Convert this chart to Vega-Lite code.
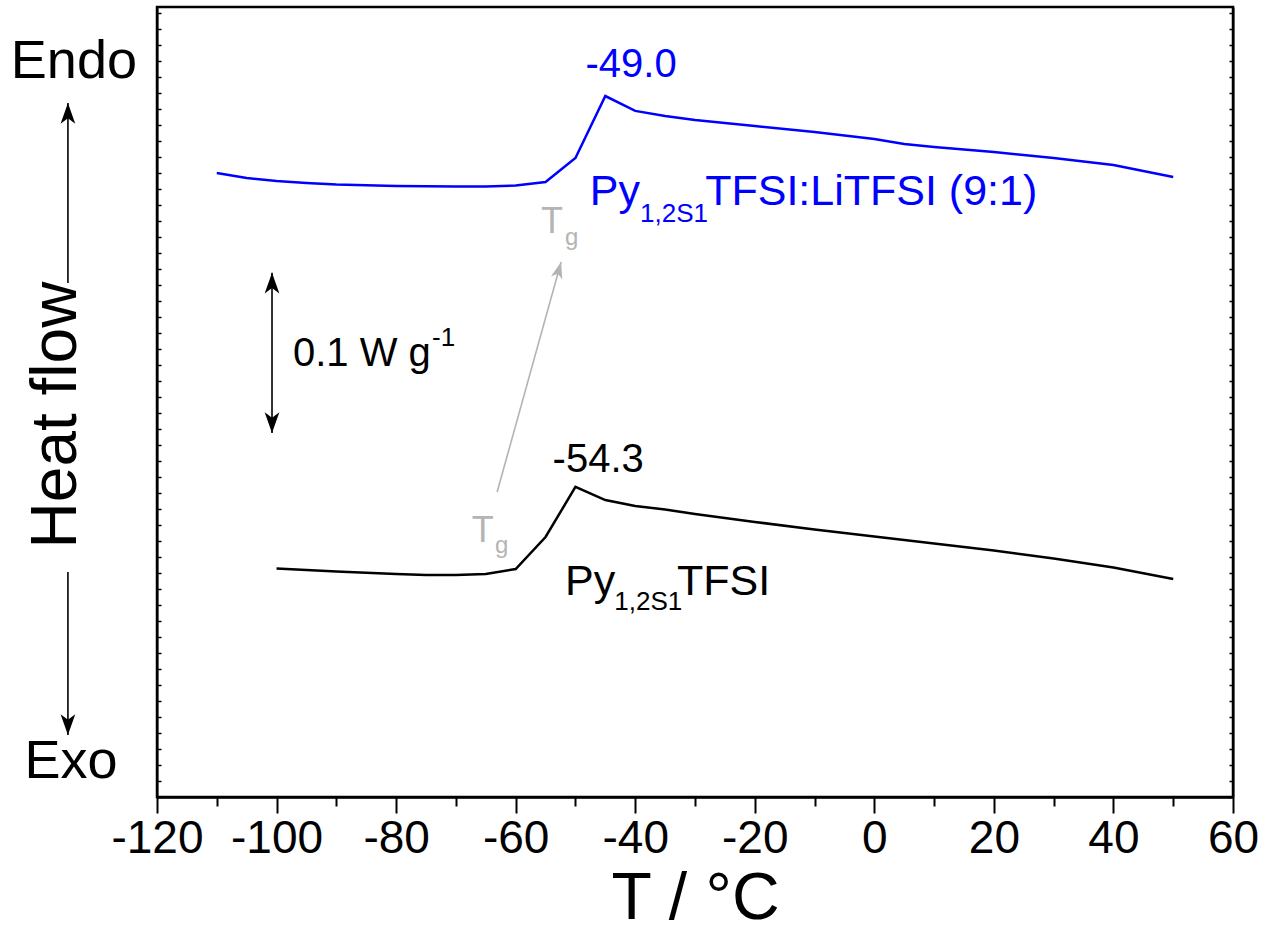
{
  "$schema": "https://vega.github.io/schema/vega-lite/v6.json",
  "width": 1076,
  "height": 790,
  "autosize": "none",
  "padding": {"left": 157, "top": 7, "right": 33, "bottom": 143},
  "background": "white",
  "config": {"view": {"stroke": "black", "strokeWidth": 2.5}, "font": "Liberation Sans"},
  "datasets": {
    "curves": [
      {"T": -110, "hf": 390.0, "sample": "Py1,2S1TFSI:LiTFSI (9:1)"},
      {"T": -105, "hf": 386.9, "sample": "Py1,2S1TFSI:LiTFSI (9:1)"},
      {"T": -100, "hf": 385.0, "sample": "Py1,2S1TFSI:LiTFSI (9:1)"},
      {"T": -95, "hf": 383.8, "sample": "Py1,2S1TFSI:LiTFSI (9:1)"},
      {"T": -90, "hf": 382.8, "sample": "Py1,2S1TFSI:LiTFSI (9:1)"},
      {"T": -80, "hf": 381.9, "sample": "Py1,2S1TFSI:LiTFSI (9:1)"},
      {"T": -70, "hf": 381.6, "sample": "Py1,2S1TFSI:LiTFSI (9:1)"},
      {"T": -65, "hf": 381.6, "sample": "Py1,2S1TFSI:LiTFSI (9:1)"},
      {"T": -60, "hf": 382.2, "sample": "Py1,2S1TFSI:LiTFSI (9:1)"},
      {"T": -55, "hf": 384.4, "sample": "Py1,2S1TFSI:LiTFSI (9:1)"},
      {"T": -50, "hf": 399.4, "sample": "Py1,2S1TFSI:LiTFSI (9:1)"},
      {"T": -45, "hf": 438.1, "sample": "Py1,2S1TFSI:LiTFSI (9:1)"},
      {"T": -40, "hf": 428.8, "sample": "Py1,2S1TFSI:LiTFSI (9:1)"},
      {"T": -35, "hf": 425.6, "sample": "Py1,2S1TFSI:LiTFSI (9:1)"},
      {"T": -30, "hf": 423.1, "sample": "Py1,2S1TFSI:LiTFSI (9:1)"},
      {"T": -20, "hf": 419.4, "sample": "Py1,2S1TFSI:LiTFSI (9:1)"},
      {"T": -10, "hf": 415.6, "sample": "Py1,2S1TFSI:LiTFSI (9:1)"},
      {"T": 0, "hf": 411.3, "sample": "Py1,2S1TFSI:LiTFSI (9:1)"},
      {"T": 5, "hf": 408.1, "sample": "Py1,2S1TFSI:LiTFSI (9:1)"},
      {"T": 10, "hf": 406.3, "sample": "Py1,2S1TFSI:LiTFSI (9:1)"},
      {"T": 20, "hf": 403.1, "sample": "Py1,2S1TFSI:LiTFSI (9:1)"},
      {"T": 30, "hf": 399.4, "sample": "Py1,2S1TFSI:LiTFSI (9:1)"},
      {"T": 40, "hf": 395.0, "sample": "Py1,2S1TFSI:LiTFSI (9:1)"},
      {"T": 50, "hf": 387.5, "sample": "Py1,2S1TFSI:LiTFSI (9:1)"},
      {"T": -100, "hf": 142.8, "sample": "Py1,2S1TFSI"},
      {"T": -90, "hf": 140.9, "sample": "Py1,2S1TFSI"},
      {"T": -80, "hf": 139.4, "sample": "Py1,2S1TFSI"},
      {"T": -75, "hf": 138.8, "sample": "Py1,2S1TFSI"},
      {"T": -70, "hf": 138.8, "sample": "Py1,2S1TFSI"},
      {"T": -65, "hf": 139.4, "sample": "Py1,2S1TFSI"},
      {"T": -60, "hf": 142.5, "sample": "Py1,2S1TFSI"},
      {"T": -55, "hf": 162.5, "sample": "Py1,2S1TFSI"},
      {"T": -50, "hf": 193.8, "sample": "Py1,2S1TFSI"},
      {"T": -45, "hf": 185.6, "sample": "Py1,2S1TFSI"},
      {"T": -40, "hf": 181.9, "sample": "Py1,2S1TFSI"},
      {"T": -35, "hf": 179.7, "sample": "Py1,2S1TFSI"},
      {"T": -30, "hf": 176.9, "sample": "Py1,2S1TFSI"},
      {"T": -20, "hf": 171.9, "sample": "Py1,2S1TFSI"},
      {"T": -10, "hf": 167.2, "sample": "Py1,2S1TFSI"},
      {"T": 0, "hf": 162.8, "sample": "Py1,2S1TFSI"},
      {"T": 10, "hf": 158.4, "sample": "Py1,2S1TFSI"},
      {"T": 20, "hf": 154.1, "sample": "Py1,2S1TFSI"},
      {"T": 30, "hf": 149.1, "sample": "Py1,2S1TFSI"},
      {"T": 40, "hf": 143.4, "sample": "Py1,2S1TFSI"},
      {"T": 50, "hf": 136.3, "sample": "Py1,2S1TFSI"}
    ],
    "rules": [
      {"T": -134.9, "T2": -134.9, "v": 321.25, "v2": 433.75, "sample": "note"},
      {"T": -134.9, "T2": -134.9, "v": 140.6, "v2": 38.75, "sample": "note"},
      {"T": -100.76, "T2": -100.76, "v": 227.5, "v2": 327.7, "sample": "note"},
      {"T": -63.1, "T2": -52.4, "v": 190.6, "v2": 334.4, "sample": "Tg"}
    ],
    "heads": [
      {"T": -134.9, "v": 433.75, "dir": "up", "sample": "note"},
      {"T": -134.9, "v": 38.75, "dir": "down", "sample": "note"},
      {"T": -100.76, "v": 327.7, "dir": "up", "sample": "note"},
      {"T": -100.76, "v": 227.5, "dir": "down", "sample": "note"},
      {"T": -52.4, "v": 334.4, "dir": "tilt", "sample": "Tg"}
    ],
    "labels": [
      {"T": -133.9, "v": 449.4, "text": "Endo", "role": "big", "sample": "note"},
      {"T": -134.4, "v": 11.9, "text": "Exo", "role": "big", "sample": "note"},
      {"T": -136.7, "v": 238.75, "text": "Heat flow", "role": "axis", "sample": "note"},
      {"T": -46.2, "v": 203.1, "text": "-54.3", "role": "peak", "sample": "Py1,2S1TFSI"},
      {"T": -40.7, "v": 450.0, "text": "-49.0", "role": "peak", "sample": "Py1,2S1TFSI:LiTFSI (9:1)"},
      {"T": -51.75, "v": 126.25, "text": "Py", "role": "name", "sample": "Py1,2S1TFSI"},
      {"T": -43.5, "v": 116.9, "text": "1,2S1", "role": "sub", "sample": "Py1,2S1TFSI"},
      {"T": -33.0, "v": 126.25, "text": "TFSI", "role": "name", "sample": "Py1,2S1TFSI"},
      {"T": -47.6, "v": 370.0, "text": "Py", "role": "name", "sample": "Py1,2S1TFSI:LiTFSI (9:1)"},
      {"T": -39.2, "v": 359.4, "text": "1,2S1", "role": "sub", "sample": "Py1,2S1TFSI:LiTFSI (9:1)"},
      {"T": -28.3, "v": 370.0, "text": "TFSI:LiTFSI (9:1)", "role": "name", "sample": "Py1,2S1TFSI:LiTFSI (9:1)"},
      {"T": -67.36, "v": 159.6, "text": "T", "role": "tg", "sample": "Tg"},
      {"T": -63.46, "v": 152.7, "text": "g", "role": "tgsub", "sample": "Tg"},
      {"T": -55.76, "v": 352.5, "text": "T", "role": "tg", "sample": "Tg"},
      {"T": -51.75, "v": 345.0, "text": "g", "role": "tgsub", "sample": "Tg"},
      {"T": -97.25, "v": 269.6, "text": "0.1 W g", "role": "scale", "sample": "note"},
      {"T": -74.0, "v": 282.0, "text": "-1", "role": "sub", "sample": "note"}
    ]
  },
  "resolve": {"axis": {"y": "independent"}},
  "layer": [
    {
      "data": {"name": "curves"},
      "mark": {"type": "line", "strokeWidth": 2.5},
      "encoding": {
        "x": {
          "field": "T", "type": "quantitative",
          "scale": {"domain": [-120, 60], "nice": false, "zero": false},
          "axis": {
            "values": [-120,-115,-110,-105,-100,-95,-90,-85,-80,-75,-70,-65,-60,-55,-50,-45,-40,-35,-30,-25,-20,-15,-10,-5,0,5,10,15,20,25,30,35,40,45,50,55,60],
            "labelExpr": "datum.value % 20 === 0 ? '' + datum.value : ''",
            "labelOverlap": false,
            "labelBound": false,
            "labelFlush": false,
            "labelFontSize": 46,
            "labelFont": "Liberation Sans",
            "labelColor": "black",
            "labelPadding": 3,
            "tickSize": {"condition": {"test": "datum.value % 20 === 0", "value": 16}, "value": 9},
            "tickWidth": 2,
            "tickColor": "black",
            "domainColor": "black",
            "domainWidth": 2.5,
            "grid": false,
            "title": "T / °C",
            "titleFont": "Liberation Sans",
            "titleFontSize": 66,
            "titleFontWeight": "normal",
            "titleColor": "black",
            "titlePadding": 5
          }
        },
        "y": {
          "field": "hf", "type": "quantitative",
          "scale": {"domain": [0, 493.75], "nice": false, "zero": false},
          "axis": {"orient": "left", "labels": false, "tickCount": 49, "tickSize": -4, "tickWidth": 1.5, "tickColor": "black", "domainColor": "black", "domainWidth": 2, "grid": false, "title": null}
        },
        "color": {
          "field": "sample", "type": "nominal",
          "scale": {"domain": ["Py1,2S1TFSI:LiTFSI (9:1)", "Py1,2S1TFSI", "Tg", "note"], "range": ["#0000ff", "#000000", "#b4b4b4", "#000000"]},
          "legend": null
        }
      }
    },
    {
      "data": {"name": "rules"},
      "mark": {"type": "rule", "strokeWidth": 1.6},
      "encoding": {
        "x": {"field": "T", "type": "quantitative"},
        "x2": {"field": "T2"},
        "y": {"field": "v", "type": "quantitative",
          "axis": {"orient": "right", "labels": false, "tickCount": 49, "tickSize": -4, "tickWidth": 1.5, "tickColor": "black", "domainColor": "black", "domainWidth": 2, "grid": false, "title": null}},
        "y2": {"field": "v2"},
        "color": {"field": "sample", "type": "nominal", "legend": null}
      }
    },
    {
      "data": {"name": "heads"},
      "transform": [{"filter": "datum.dir === 'up'"}],
      "mark": {"type": "point", "filled": true, "opacity": 1, "shape": "M0,0 L0.6,1.7 L0,1.25 L-0.6,1.7 Z", "size": 600, "angle": 0},
      "encoding": {
        "x": {"field": "T", "type": "quantitative"},
        "y": {"field": "v", "type": "quantitative", "axis": null},
        "color": {"field": "sample", "type": "nominal", "legend": null}
      }
    },
    {
      "data": {"name": "heads"},
      "transform": [{"filter": "datum.dir === 'down'"}],
      "mark": {"type": "point", "filled": true, "opacity": 1, "shape": "M0,0 L0.6,1.7 L0,1.25 L-0.6,1.7 Z", "size": 600, "angle": 180},
      "encoding": {
        "x": {"field": "T", "type": "quantitative"},
        "y": {"field": "v", "type": "quantitative", "axis": null},
        "color": {"field": "sample", "type": "nominal", "legend": null}
      }
    },
    {
      "data": {"name": "heads"},
      "transform": [{"filter": "datum.dir === 'tilt'"}],
      "mark": {"type": "point", "filled": true, "opacity": 1, "shape": "M0,0 L0.6,1.7 L0,1.25 L-0.6,1.7 Z", "size": 380, "angle": 15.5},
      "encoding": {
        "x": {"field": "T", "type": "quantitative"},
        "y": {"field": "v", "type": "quantitative", "axis": null},
        "color": {"field": "sample", "type": "nominal", "legend": null}
      }
    },
    {
      "data": {"name": "labels"},
      "transform": [{"filter": "datum.role === 'big'"}],
      "mark": {"type": "text", "fontSize": 54, "align": "center", "baseline": "alphabetic", "font": "Liberation Sans"},
      "encoding": {
        "x": {"field": "T", "type": "quantitative"},
        "y": {"field": "v", "type": "quantitative", "axis": null},
        "text": {"field": "text"},
        "color": {"field": "sample", "type": "nominal", "legend": null}
      }
    },
    {
      "data": {"name": "labels"},
      "transform": [{"filter": "datum.role === 'axis'"}],
      "mark": {"type": "text", "fontSize": 64, "align": "center", "baseline": "middle", "angle": 270, "font": "Liberation Sans"},
      "encoding": {
        "x": {"field": "T", "type": "quantitative"},
        "y": {"field": "v", "type": "quantitative", "axis": null},
        "text": {"field": "text"},
        "color": {"field": "sample", "type": "nominal", "legend": null}
      }
    },
    {
      "data": {"name": "labels"},
      "transform": [{"filter": "datum.role === 'peak'"}],
      "mark": {"type": "text", "fontSize": 40, "align": "center", "baseline": "alphabetic", "font": "Liberation Sans"},
      "encoding": {
        "x": {"field": "T", "type": "quantitative"},
        "y": {"field": "v", "type": "quantitative", "axis": null},
        "text": {"field": "text"},
        "color": {"field": "sample", "type": "nominal", "legend": null}
      }
    },
    {
      "data": {"name": "labels"},
      "transform": [{"filter": "datum.role === 'name'"}],
      "mark": {"type": "text", "fontSize": 43, "align": "left", "baseline": "alphabetic", "font": "Liberation Sans"},
      "encoding": {
        "x": {"field": "T", "type": "quantitative"},
        "y": {"field": "v", "type": "quantitative", "axis": null},
        "text": {"field": "text"},
        "color": {"field": "sample", "type": "nominal", "legend": null}
      }
    },
    {
      "data": {"name": "labels"},
      "transform": [{"filter": "datum.role === 'sub'"}],
      "mark": {"type": "text", "fontSize": 26, "align": "left", "baseline": "alphabetic", "font": "Liberation Sans"},
      "encoding": {
        "x": {"field": "T", "type": "quantitative"},
        "y": {"field": "v", "type": "quantitative", "axis": null},
        "text": {"field": "text"},
        "color": {"field": "sample", "type": "nominal", "legend": null}
      }
    },
    {
      "data": {"name": "labels"},
      "transform": [{"filter": "datum.role === 'tg'"}],
      "mark": {"type": "text", "fontSize": 36, "align": "left", "baseline": "alphabetic", "font": "Liberation Sans"},
      "encoding": {
        "x": {"field": "T", "type": "quantitative"},
        "y": {"field": "v", "type": "quantitative", "axis": null},
        "text": {"field": "text"},
        "color": {"field": "sample", "type": "nominal", "legend": null}
      }
    },
    {
      "data": {"name": "labels"},
      "transform": [{"filter": "datum.role === 'tgsub'"}],
      "mark": {"type": "text", "fontSize": 24, "align": "left", "baseline": "alphabetic", "font": "Liberation Sans"},
      "encoding": {
        "x": {"field": "T", "type": "quantitative"},
        "y": {"field": "v", "type": "quantitative", "axis": null},
        "text": {"field": "text"},
        "color": {"field": "sample", "type": "nominal", "legend": null}
      }
    },
    {
      "data": {"name": "labels"},
      "transform": [{"filter": "datum.role === 'scale'"}],
      "mark": {"type": "text", "fontSize": 40, "align": "left", "baseline": "alphabetic", "font": "Liberation Sans"},
      "encoding": {
        "x": {"field": "T", "type": "quantitative"},
        "y": {"field": "v", "type": "quantitative", "axis": null},
        "text": {"field": "text"},
        "color": {"field": "sample", "type": "nominal", "legend": null}
      }
    }
  ]
}
